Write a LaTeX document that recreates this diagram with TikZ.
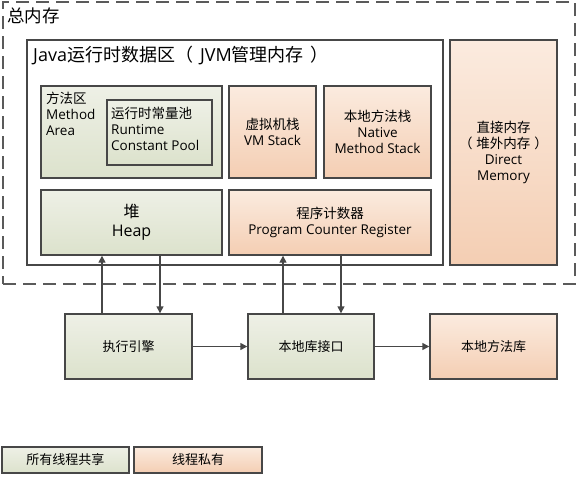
\documentclass[tikz,border=0pt]{standalone}
\usepackage{fontspec}
\setmainfont{Open Sans}
\newfontfamily\cjk{Noto Sans CJK SC}
\usepackage{tikz}
\usetikzlibrary{positioning,arrows.meta,calc}
\definecolor{memLine}{HTML}{474747}
\definecolor{memDash}{HTML}{5A5A5A}
\definecolor{shGreenTop}{HTML}{EEF0E6}
\definecolor{shGreenBot}{HTML}{DCE2CC}
\definecolor{prOrangeTop}{HTML}{FBEBDF}
\definecolor{prOrangeBot}{HTML}{F4CEB3}
\tikzset{
  basebox/.style={draw=memLine, line width=1.4pt, inner sep=0pt,
                  font=\fontsize{13.5}{16}\selectfont, align=center},
  sharedbox/.style={basebox, top color=shGreenTop, bottom color=shGreenBot},
  privbox/.style={basebox, top color=prOrangeTop, bottom color=prOrangeBot},
  areabox/.style={draw=memLine, line width=1.3pt, fill=white, inner sep=0pt},
  boxtext/.style={inner sep=0pt, font=\fontsize{13.5}{16}\selectfont},
  cjkbox/.style={font=\fontsize{13}{16}\selectfont\cjk},
  flowarrow/.style={-{Triangle[length=7pt,width=7pt]}, draw=memLine,
                    line width=1.4pt},
}
\begin{document}
\begin{tikzpicture}[x=1pt, y=-1pt]
\useasboundingbox (0,0) rectangle (579,477);

%% Total memory (dashed frame)
\node[draw=memDash, line width=2pt, dash pattern=on 13pt off 7pt,
      minimum width=572, minimum height=282, inner sep=0pt] (total) at (289,143) {};
\node[inner sep=0pt, anchor=west, font=\fontsize{17.5}{20}\selectfont\cjk] (totallbl) at (7,16) {总内存};

%% JVM runtime data area
\node[areabox, minimum width=416, minimum height=225] (jvm) at (235,152.5) {};
\node[inner sep=0pt, anchor=west, font=\fontsize{18}{20}\selectfont] (jvmlbl) at (33,55)
  {Java{\cjk 运行时数据区（}\hspace{7pt}JVM{\cjk 管理内存\hspace{7pt}）}};

%% Method area and constant pool
\node[sharedbox, minimum width=181, minimum height=92] (method) at (131.5,132) {};
\node[boxtext, anchor=west, align=left] (methodlbl) at (46,114) {{\cjk 方法区}\\Method\\Area};
\node[sharedbox, minimum width=105, minimum height=65] (pool) at (159.5,132.5) {};
\node[boxtext, anchor=west, align=left] (poollbl) at (111,128.5)
  {{\cjk 运行时常量池}\\Runtime\\Constant Pool};

%% Stacks
\node[privbox, minimum width=87, minimum height=92] (vmstack) at (272.5,132)
  {{\cjk 虚拟机栈}\\VM Stack};
\node[privbox, minimum width=107, minimum height=92] (nstack) at (377.5,132)
  {{\cjk 本地方法栈}\\Native\\Method Stack};

%% Heap and PC register
\node[sharedbox, minimum width=181, minimum height=65,
      font=\fontsize{16}{19}\selectfont] (heap) at (131.5,222.5) {{\cjk 堆}\\Heap};
\node[privbox, minimum width=202, minimum height=65] (pc) at (330,222.5)
  {{\cjk 程序计数器}\\Program Counter Register};

%% Direct memory
\node[privbox, minimum width=107, minimum height=225] (direct) at (503.5,152.5)
  {{\cjk 直接内存}\\{\cjk （\hspace{4pt}堆外内存\hspace{4pt}）}\\Direct\\Memory};

%% Execution side
\node[sharedbox, cjkbox, minimum width=127, minimum height=65] (engine) at (128.5,346.5) {执行引擎};
\node[sharedbox, cjkbox, minimum width=126, minimum height=65] (nativeif) at (311,346.5) {本地库接口};
\node[privbox, cjkbox, minimum width=127, minimum height=65] (nativelib) at (493.5,346.5) {本地方法库};

%% Connections
\coordinate (upA) at (102,0);
\coordinate (dnA) at (160,0);
\coordinate (upB) at (283,0);
\coordinate (dnB) at (341,0);
\draw[flowarrow] (engine.north -| upA) -- (heap.south -| upA);
\draw[flowarrow] (heap.south -| dnA) -- (engine.north -| dnA);
\draw[flowarrow] (nativeif.north -| upB) -- (pc.south -| upB);
\draw[flowarrow] (pc.south -| dnB) -- (nativeif.north -| dnB);
\draw[flowarrow] (engine) -- (nativeif);
\draw[flowarrow] (nativeif) -- (nativelib);

%% Legend
\node[sharedbox, cjkbox, minimum width=127, minimum height=26] (legshared) at (65.5,460) {所有线程共享};
\node[privbox, cjkbox, minimum width=128, minimum height=26] (legpriv) at (198,460) {线程私有};
\end{tikzpicture}
\end{document}
